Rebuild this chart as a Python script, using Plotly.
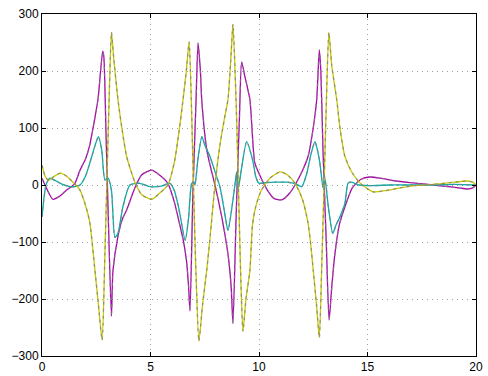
import plotly.graph_objects as go

# Yellow series
yel_x = [0, 0.15, 0.3, 0.55, 0.85, 1.15, 1.5, 1.75, 2.0, 2.2, 2.44, 2.6, 2.77, 2.9, 3.0, 3.1, 3.2, 3.3, 3.5, 3.7, 3.9, 4.3, 4.6, 5.05, 5.4, 5.8, 6.1, 6.3, 6.5, 6.65, 6.78, 6.9, 7.0, 7.1, 7.23, 7.4, 7.59, 7.75, 7.97, 8.2, 8.4, 8.57, 8.7, 8.8, 8.95, 9.05, 9.15, 9.26, 9.4, 9.58, 9.7, 9.85, 10.1, 10.5, 10.97, 11.3, 11.66, 12.0, 12.26, 12.4, 12.5, 12.65, 12.78, 12.9, 13.0, 13.1, 13.22, 13.35, 13.58, 13.75, 13.96, 14.3, 14.7, 15.25, 15.8, 16.5, 17.2, 18.0, 18.8, 19.6, 19.85, 20]
yel_y = [35, 15, 8, 15, 21, 15, 2, -9, -35, -65, -150, -210, -272, -120, 20, 160, 268, 225, 150, 95, 50, 3, -17, -25, -15, 0, 40, 90, 150, 200, 251, 120, -30, -160, -274, -210, -150, -90, 0, 70, 115, 150, 220, 282, 140, 0, -150, -257, -200, -150, -70, -38, -10, 12, 23, 18, 3, -25, -67, -110, -150, -210, -268, -130, 0, 140, 268, 210, 150, 95, 50, 21, 2, -12, -10, -5, -1, 1, 4, 7, 5, 0]

# Magenta series
mag_x = [0, 0.2, 0.5, 0.8, 1.1, 1.5, 1.75, 2.0, 2.2, 2.4, 2.58, 2.7, 2.8, 2.85, 2.95, 3.05, 3.2, 3.27, 3.5, 3.7, 3.9, 4.3, 4.6, 5.05, 5.4, 5.8, 6.1, 6.35, 6.5, 6.65, 6.75, 6.82, 6.95, 7.1, 7.19, 7.3, 7.36, 7.6, 7.97, 8.2, 8.4, 8.6, 8.72, 8.8, 8.95, 9.1, 9.2, 9.35, 9.58, 9.8, 10.0, 10.4, 10.7, 11.05, 11.4, 11.66, 12.0, 12.26, 12.5, 12.66, 12.78, 12.85, 12.95, 13.1, 13.23, 13.35, 13.5, 13.7, 13.96, 14.3, 14.7, 15.1, 15.6, 16.3, 17.0, 17.8, 18.5, 19.2, 19.6, 19.85, 20]
mag_y = [12, -5, -25, -20, -10, 2, 26, 45, 70, 110, 150, 200, 235, 225, 90, -50, -230, -150, -90, -60, -44, -3, 18, 26, 18, 3, -30, -70, -95, -130, -175, -221, -20, 150, 249, 200, 150, 60, 0, -40, -80, -130, -180, -243, -50, 120, 216, 190, 150, 40, 20, -10, -24, -26, -15, 0, 25, 50, 100, 150, 237, 200, 60, -100, -237, -180, -120, -70, -38, -5, 10, 14, 12, 7, 4, 1, -2, -5, -7, -5, 0]

# Cyan series
cya_x = [0, 0.1, 0.2, 0.37, 0.6, 0.9, 1.2, 1.5, 1.75, 2.0, 2.2, 2.45, 2.6, 2.75, 2.9, 3.04, 3.2, 3.36, 3.5, 3.73, 4.05, 4.5, 5.0, 5.5, 5.9, 6.1, 6.3, 6.6, 6.75, 6.9, 7.0, 7.05, 7.2, 7.37, 7.5, 7.74, 8.0, 8.2, 8.4, 8.57, 8.75, 8.9, 8.97, 9.03, 9.2, 9.43, 9.7, 9.85, 10.0, 10.3, 10.8, 11.3, 11.7, 11.97, 12.2, 12.4, 12.58, 12.7, 12.8, 12.95, 13.02, 13.1, 13.2, 13.4, 13.55, 13.73, 13.96, 14.1, 14.25, 14.6, 15.2, 16.0, 17.0, 18.0, 19.0, 20]
cya_y = [-56, -20, 2, 12, 8, 2, -2, -3, 0, 15, 38, 70, 85, 62, 9, 12, -9, -92, -85, -38, 0, 3, -3, -2, 3, -10, -40, -97, -60, 3, 5, 0, 50, 85, 70, 50, 20, -3, -45, -80, -40, 3, 23, -9, 30, 76, 45, 15, 3, 4, 5, 5, 2, -3, 20, 55, 76, 60, 40, -5, 15, -5, -40, -85, -70, -56, -32, 3, 5, 0, -1, 0, 0, 0, 1, 0]

x_ticks = [0, 5, 10, 15, 20]
y_ticks = [-300, -200, -100, 0, 100, 200, 300]

fig = go.Figure()
series = [
    (mag_x, mag_y, "rgb(176,0,176)"),
    (cya_x, cya_y, "rgb(0,176,176)"),
    (yel_x, yel_y, "rgb(200,200,0)"),
]
for xs, ys, col in series:
    fig.add_trace(go.Scatter(x=xs, y=ys, mode="lines",
                             line=dict(color=col, width=1.3, shape="spline", smoothing=0.6),
                             showlegend=False))
for xs, ys, col in series:
    fig.add_trace(go.Scatter(x=xs, y=ys, mode="lines",
                             line=dict(color="rgba(128,128,128,0.75)", width=1.3, dash="3px,4px",
                                       shape="spline", smoothing=0.6),
                             showlegend=False))

axis_common = dict(
    showline=True, linecolor="black", linewidth=1, mirror="ticks",
    ticks="inside", ticklen=4, tickcolor="black",
    showgrid=True, gridcolor="rgb(160,160,160)", griddash="1px,4px", gridwidth=1,
    zeroline=False, automargin=False,
    tickfont=dict(family="Liberation Sans, Arial, sans-serif", size=12, color="black"),
)
fig.update_xaxes(range=[0, 20], tickvals=x_ticks, **axis_common)
fig.update_yaxes(range=[-300, 300], tickvals=y_ticks, **axis_common)
fig.update_layout(
    width=488, height=376,
    margin=dict(l=42, r=12, t=14, b=20),
    paper_bgcolor="white", plot_bgcolor="white",
)
fig.write_html("out.html")
